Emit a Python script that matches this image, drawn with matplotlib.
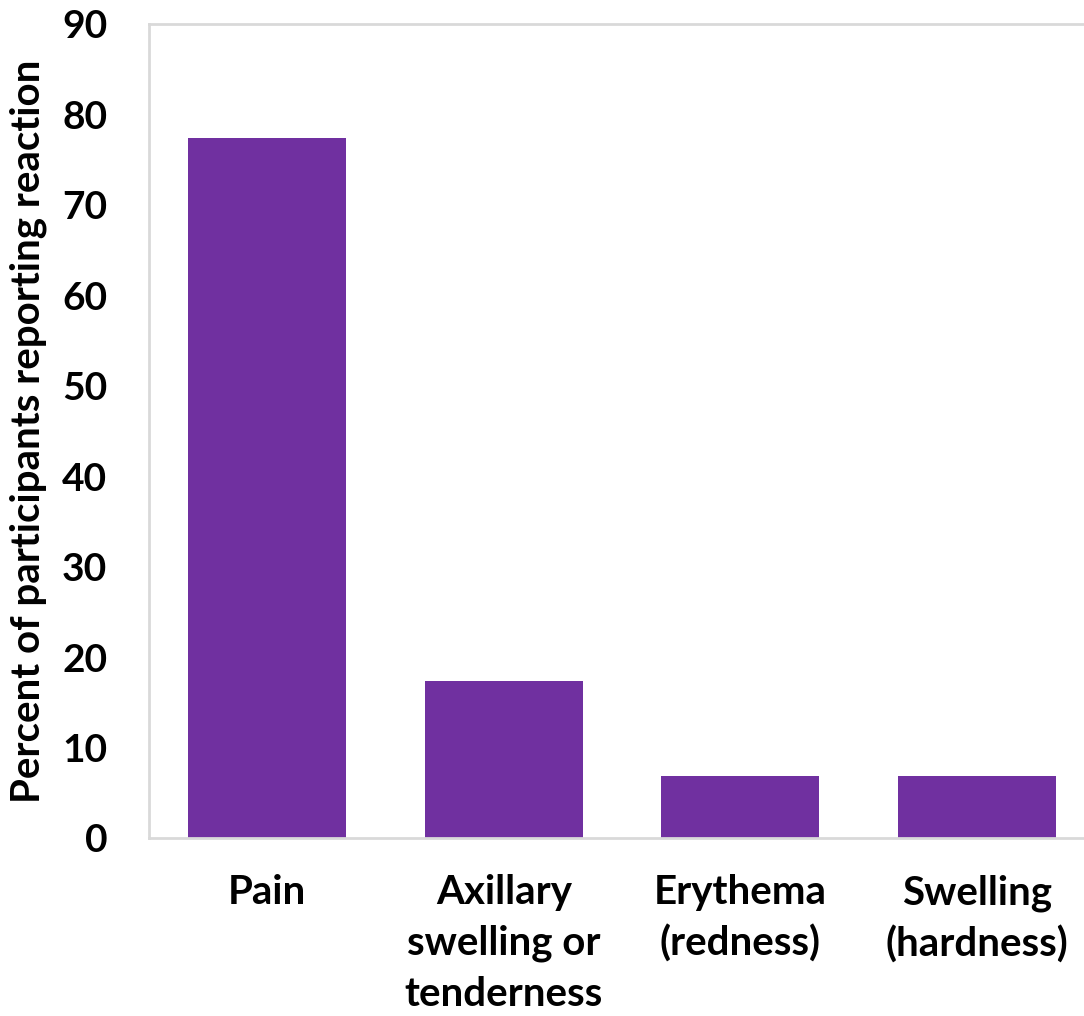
import matplotlib
matplotlib.use('Agg')
import matplotlib.pyplot as plt

# dados
categorias = ["Pain", "Axillary\nswelling or\ntenderness", "Erythema\n(redness)", "Swelling\n(hardness)"]
percentuais = [77.4, 17.4, 6.9, 6.9]
yticks = [0, 10, 20, 30, 40, 50, 60, 70, 80, 90]

plt.rcParams['font.family'] = ['Lato', 'DejaVu Sans']
plt.rcParams['font.weight'] = 'bold'

fig = plt.figure(figsize=(10.84, 10.16), dpi=100)
ax = fig.add_axes([0.1375, 0.1752, 0.8727, 0.8012])

x = range(len(categorias))
ax.bar(x, percentuais, width=0.668, color='#7030A0')

ax.set_xlim(-0.5, 3.5)
ax.set_ylim(0, 90)
ax.set_yticks(yticks)
ax.set_xticks(list(x))
ax.set_xticklabels(categorias, fontsize=29, fontweight='bold', linespacing=1.45)
ax.tick_params(axis='y', length=0, labelsize=28, pad=30)
ax.tick_params(axis='x', length=0, pad=26)
for lbl in ax.get_yticklabels():
    lbl.set_fontweight('bold')

for s in ['left', 'bottom', 'top', 'right']:
    ax.spines[s].set_color('#D9D9D9')
    ax.spines[s].set_linewidth(2)

ax.set_ylabel("Percent of participants reporting reaction", fontsize=29,
              fontweight='bold')
ax.yaxis.set_label_coords(-0.108, 0.5)

fig.savefig("out.png", dpi=100)
